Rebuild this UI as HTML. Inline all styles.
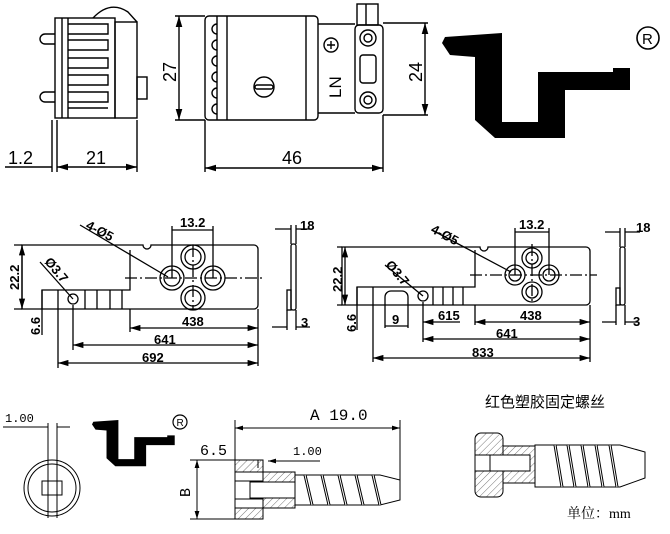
<!DOCTYPE html>
<html><head><meta charset="utf-8"><style>
html,body{margin:0;padding:0;background:#fff;width:670px;height:534px;overflow:hidden}
svg{display:block;font-family:"Liberation Mono",monospace}
</style></head><body>
<svg width="670" height="534" viewBox="0 0 670 534" xmlns="http://www.w3.org/2000/svg">
<defs>
<marker id="a" viewBox="0 0 10 6" refX="10" refY="3" markerWidth="8" markerHeight="5" orient="auto-start-reverse"><path d="M0,0L10,3L0,6z" fill="#000"/></marker>
<pattern id="h" width="5" height="5" patternUnits="userSpaceOnUse" patternTransform="rotate(45)"><line x1="0" y1="0" x2="0" y2="5" stroke="#555" stroke-width="0.8"/></pattern>
</defs>
<g fill="none" stroke="#000" stroke-width="1.4">
<path d="M93,18 Q110,0 128,12 L137,22"/>
<rect x="55" y="18" width="60" height="100"/>
<rect x="115" y="22" width="22" height="96"/>
<rect x="137" y="77" width="10" height="22"/>
<line x1="62" y1="18" x2="62" y2="118"/>
<line x1="68" y1="18" x2="68" y2="118"/>
<path d="M68,24h40v10h-40M68,40h40v10h-40M68,58h40v10h-40M68,75h40v10h-40M68,92h40v10h-40M68,108h40"/>
<path d="M55,34h-10a4,4 0 0 0 0,10h10M55,92h-10a4,4 0 0 0 0,10h10"/>
<line x1="52" y1="120" x2="52" y2="172"/><line x1="57" y1="120" x2="57" y2="172"/><line x1="137" y1="120" x2="137" y2="172"/>
<line x1="5" y1="167" x2="52" y2="167"/>
<line x1="57" y1="167" x2="137" y2="167" marker-start="url(#a)" marker-end="url(#a)"/>
<rect x="205" y="16" width="113" height="104" rx="4"/>
<line x1="217" y1="16" x2="217" y2="120"/><line x1="227" y1="16" x2="227" y2="120"/><line x1="306" y1="16" x2="306" y2="120"/>
<path d="M217,24a5,5 0 0 0 0,10M217,40a5,5 0 0 0 0,10M217,56a5,5 0 0 0 0,10M217,72a5,5 0 0 0 0,10M217,88a5,5 0 0 0 0,10M217,104a5,5 0 0 0 0,10"/>
<circle cx="264" cy="87" r="10"/><rect x="255" y="85" width="18" height="4" rx="2"/>
<path d="M318,24h37M318,113h37"/>
<rect x="355" y="25" width="28" height="88" rx="4"/>
<rect x="357" y="4" width="21" height="21"/><line x1="366" y1="4" x2="366" y2="25"/>
<circle cx="368" cy="38" r="8"/><circle cx="368" cy="38" r="4"/>
<circle cx="368" cy="100" r="8"/><circle cx="368" cy="100" r="4"/>
<rect x="360" y="55" width="16" height="28" rx="3"/>
<circle cx="331" cy="45" r="7"/><path d="M327,45h8M331,41v8"/>
<path d="M205,16h-30M205,120h-30"/>
<line x1="179" y1="16" x2="179" y2="120" marker-start="url(#a)" marker-end="url(#a)"/>
<path d="M383,23h45M383,115h45"/>
<line x1="425" y1="23" x2="425" y2="115" marker-start="url(#a)" marker-end="url(#a)"/>
<path d="M205,120v52M383,115v57"/>
<line x1="205" y1="168" x2="383" y2="168" marker-start="url(#a)" marker-end="url(#a)"/>
</g>
<g font-family="Liberation Sans" font-size="18">
<text x="8" y="164">1.2</text>
<text x="86" y="164">21</text>
<text x="282" y="164">46</text>
<text transform="translate(176,82) rotate(-90)">27</text>
<text transform="translate(422,82) rotate(-90)">24</text>
<text transform="translate(341,98) rotate(-90)" font-size="17">LN</text>
</g>
<path d="M445,37L502,33L502,122L538,122L538,72L613,72L613,68L630,68L630,90L565,90L565,138L495,138L475,120L475,57L450,55L442,43Z" fill="#000"/>
<circle cx="648" cy="38" r="11" fill="none" stroke="#000" stroke-width="1.6"/>
<text x="642" y="44" font-size="15" font-family="Liberation Sans">R</text>
<g transform="translate(92,420) scale(0.44)"><path d="M3,4L60,0L60,89L96,89L96,39L171,39L171,35L188,35L188,57L123,57L123,105L53,105L33,87L33,24L8,22L0,10Z" fill="#000"/></g>
<circle cx="180" cy="422" r="7" fill="none" stroke="#000" stroke-width="1.2"/>
<text x="176.5" y="426" font-size="10" font-family="Liberation Sans">R</text>

<g fill="none" stroke="#000" stroke-width="1.3">
<path d="M22,245H143a4,4 0 0 0 8,0H254a4,4 0 0 1 4,4V305a4,4 0 0 1-4,4H22Z"/>
<path d="M130,250V290H42V309"/>
<path d="M58,290V309M85,290V309M97,290V309M110,290V309M122,290V309"/>
<circle cx="73" cy="299" r="5"/>
<circle cx="172" cy="278" r="12"/><circle cx="172" cy="278" r="8"/>
<circle cx="213" cy="278" r="12"/><circle cx="213" cy="278" r="8"/>
<circle cx="193" cy="257" r="12"/><circle cx="193" cy="257" r="8"/>
<circle cx="193" cy="298" r="12"/><circle cx="193" cy="298" r="8"/>
<line x1="125" y1="278" x2="265" y2="278" stroke-dasharray="12,3,2,3"/>
<line x1="193" y1="245" x2="193" y2="310" stroke-dasharray="12,3,2,3"/>
<path d="M172,278V226M213,278V226"/><line x1="172" y1="230" x2="213" y2="230"/>
<path d="M168,277L80,225M73,299L40,262"/>
<path d="M22,245h-8M22,309h-8"/><line x1="22" y1="245" x2="22" y2="309" marker-start="url(#a)" marker-end="url(#a)"/>
<line x1="42" y1="290" x2="42" y2="335"/>
<path d="M130,309V332M258,309V366M73,305V350M58,309V368"/>
<line x1="130" y1="328" x2="258" y2="328" marker-start="url(#a)" marker-end="url(#a)"/>
<line x1="73" y1="345" x2="258" y2="345" marker-start="url(#a)" marker-end="url(#a)"/>
<line x1="58" y1="363" x2="258" y2="363" marker-start="url(#a)" marker-end="url(#a)"/>
<rect x="291" y="244" width="5" height="66" rx="2"/><rect x="287" y="290" width="4" height="20"/>
<path d="M291,244V225M296,244V225M275,229H291M296,229H312"/>
<path d="M287,310V330M296,310V330M272,327H287M296,327H310"/>
<path d="M342,247H480a4,4 0 0 0 8,0H586a4,4 0 0 1 4,4V301a4,4 0 0 1-4,4H342Z"/>
<path d="M475,250V287H357V305"/>
<path d="M373,287V305M433,287V305M443,287V305M453,287V305M463,287V305"/>
<path d="M385,305V297a6,6 0 0 1 6,-6H402a6,6 0 0 1 6,6V305"/><path d="M385,305V328M408,305V328"/>
<circle cx="423" cy="296" r="5"/>
<circle cx="515" cy="275" r="10"/><circle cx="515" cy="275" r="6"/>
<circle cx="549" cy="275" r="10"/><circle cx="549" cy="275" r="6"/>
<circle cx="532" cy="258" r="10"/><circle cx="532" cy="258" r="6"/>
<circle cx="532" cy="292" r="10"/><circle cx="532" cy="292" r="6"/>
<line x1="470" y1="275" x2="597" y2="275" stroke-dasharray="12,3,2,3"/>
<line x1="532" y1="244" x2="532" y2="304" stroke-dasharray="12,3,2,3"/>
<path d="M515,275V228M549,275V228"/><line x1="515" y1="232" x2="549" y2="232"/>
<path d="M511,272L432,230M423,296L385,265"/>
<path d="M342,247h-5M342,305h-5"/><line x1="345" y1="247" x2="345" y2="305" marker-start="url(#a)" marker-end="url(#a)"/>
<line x1="357" y1="287" x2="357" y2="330"/>
<line x1="385" y1="326" x2="408" y2="326"/>
<path d="M423,302V342M475,305V325M590,305V362M373,305V362"/>
<line x1="423" y1="322" x2="460" y2="322" marker-start="url(#a)"/>
<line x1="475" y1="322" x2="590" y2="322" marker-start="url(#a)" marker-end="url(#a)"/>
<line x1="423" y1="339" x2="590" y2="339" marker-start="url(#a)" marker-end="url(#a)"/>
<line x1="373" y1="358" x2="590" y2="358" marker-start="url(#a)" marker-end="url(#a)"/>
<rect x="620" y="247" width="5" height="58" rx="2"/><rect x="616" y="288" width="4" height="17"/>
<path d="M620,247V228M625,247V228M605,232H620M625,232H640"/>
<path d="M616,305V325M625,305V325M602,322H616M625,322H638"/>
</g>
<g font-size="13" font-family="Liberation Sans" font-weight="bold">
<text x="180" y="227">13.2</text><text x="519" y="229">13.2</text>
<text x="300" y="230">18</text><text x="636" y="232">18</text>
<text x="301" y="327">3</text><text x="633" y="326">3</text>
<text x="182" y="326">438</text><text x="520" y="320">438</text>
<text x="154" y="344">641</text><text x="496" y="338">641</text>
<text x="142" y="362">692</text><text x="472" y="357">833</text>
<text x="438" y="320">615</text><text x="392" y="324">9</text>
<text transform="translate(85,228) rotate(28)">4-Ø5</text>
<text transform="translate(430,232) rotate(28)">4-Ø5</text>
<text transform="translate(44,262) rotate(50)">Ø3.7</text>
<text transform="translate(385,265) rotate(50)">Ø3.7</text>
<text transform="translate(19,290) rotate(-90)">22.2</text>
<text transform="translate(342,292) rotate(-90)">22.2</text>
<text transform="translate(40,335) rotate(-90)">6.6</text>
<text transform="translate(356,332) rotate(-90)">6.6</text>
</g>

<g fill="none" stroke="#000" stroke-width="1">
<circle cx="52" cy="488" r="28"/><circle cx="52" cy="488" r="24"/>
<rect x="42" y="481" width="20" height="14"/>
<path d="M48,423V518M57,423V518"/>
<path d="M3,427H48M57,427H70"/>
</g>
<text x="5" y="422" font-size="12">1.00</text>
<g stroke="#000" stroke-width="1">
<rect x="235" y="460" width="28" height="59" fill="url(#h)"/>
<rect x="235" y="472" width="28" height="36" fill="#fff"/>
<path d="M235,481H263M235,499H263" fill="none"/>
<path d="M263,472H295V508H263Z" fill="url(#h)"/>
<path d="M250,482H295V498H250Z" fill="#fff"/>
<path d="M295,475H380L400,480V500L380,505H295Z" fill="#fff"/>
<path d="M305,475L312,505M322,475L329,505M339,475L346,505M356,475L363,505M373,475L380,505" fill="none" stroke-width="3"/>
<path d="M305,475L312,505M322,475L329,505M339,475L346,505M356,475L363,505M373,475L380,505" fill="none" stroke="#fff" stroke-width="1"/>
</g>
<g fill="none" stroke="#000" stroke-width="1">
<path d="M235,460V420M400,480V420M190,460H235M190,519H235"/>
<line x1="235" y1="428" x2="400" y2="428" marker-start="url(#a)" marker-end="url(#a)"/>
<line x1="197" y1="460" x2="197" y2="519" marker-start="url(#a)" marker-end="url(#a)"/>
<line x1="258" y1="460" x2="258" y2="468"/><line x1="263" y1="460" x2="263" y2="472"/>
<line x1="268" y1="461" x2="320" y2="461" marker-start="url(#a)"/>
</g>
<text x="310" y="420" font-size="16">A 19.0</text>
<text x="200" y="455" font-size="15">6.5</text>
<text x="293" y="455" font-size="12">1.00</text>
<text transform="translate(190,497) rotate(-90)" font-size="15">B</text>
<g stroke="#000" stroke-width="1">
<rect x="475" y="433" width="28" height="64" rx="6" fill="url(#h)"/>
<rect x="475" y="455" width="15" height="16" fill="#fff"/>
<path d="M503,446H535V483H503Z" fill="url(#h)"/>
<path d="M490,455H530V471H490Z" fill="#fff"/>
<path d="M535,445H620L645,452V478L620,487H535Z" fill="#fff"/>
<path d="M555,445L562,487M568,445L575,487M582,445L589,487M596,445L603,487M610,445L617,487" fill="none" stroke-width="3"/>
<path d="M555,445L562,487M568,445L575,487M582,445L589,487M596,445L603,487M610,445L617,487" fill="none" stroke="#fff" stroke-width="1"/>
</g>
<text x="485" y="407" font-size="15" style='font-family:"Liberation Sans","Noto Sans CJK SC",sans-serif'>红色塑胶固定螺丝</text>
<text x="567" y="518" font-size="14" style='font-family:"Liberation Serif","Noto Serif CJK SC",serif'>单位：mm</text>
</svg>
</body></html>
